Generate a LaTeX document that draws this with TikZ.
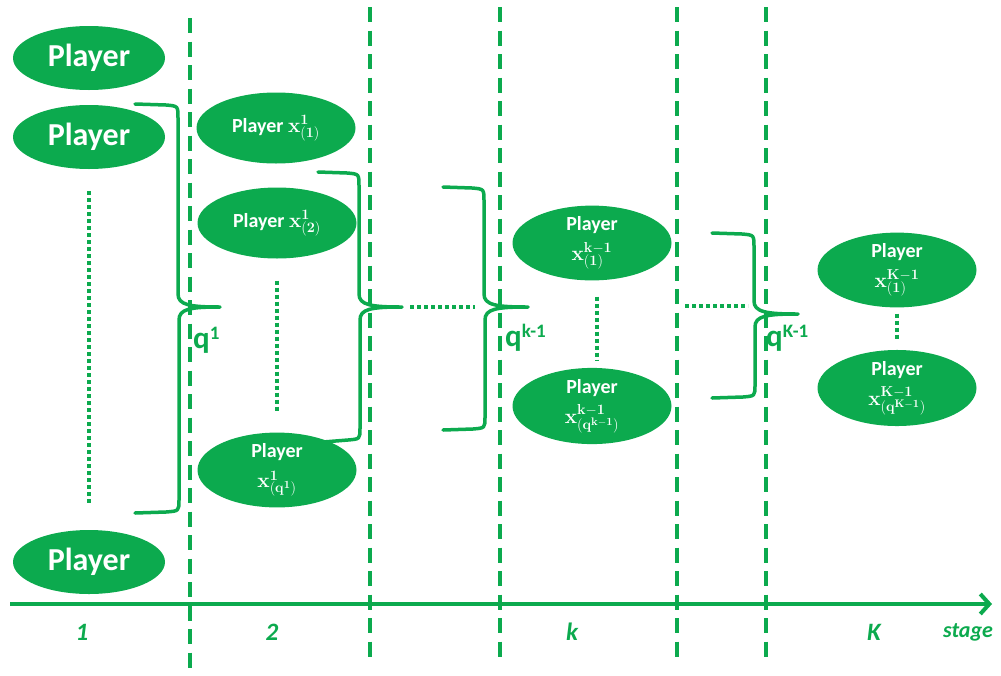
\documentclass[tikz,border=0pt]{standalone}
\usepackage[no-math]{fontspec}
\setmainfont{Carlito}
\usetikzlibrary{shapes.geometric,arrows.meta}
\definecolor{gr}{RGB}{12,170,78}
\newcommand{\xsub}[2]{{\fontsize{22}{26}\selectfont$\mathbf{x}^{#1}_{(#2)}$}}
\begin{document}
\begin{tikzpicture}[x=1pt,y=-1pt,
  pl/.style={ellipse, fill=gr, inner sep=0pt, text=white, font=\bfseries\fontsize{20}{25}\selectfont, align=center},
  big/.style={pl, minimum width=152pt, minimum height=64pt, font=\bfseries\fontsize{32}{38}\selectfont},
  mid/.style={pl, minimum width=159pt, minimum height=71pt},
  dashln/.style={gr, line width=4pt, dash pattern=on 15pt off 8.5pt},
  dotln/.style={gr, line width=4pt, dash pattern=on 4pt off 3pt},
  brc/.style={gr, line width=3.5pt, line join=round, line cap=round},
  stg/.style={text=gr, font=\bfseries\itshape\fontsize{25}{30}\selectfont},
  ql/.style={text=gr, font=\bfseries\fontsize{31}{36}\selectfont, anchor=west, inner sep=0pt}
]
\useasboundingbox (0,0) rectangle (1001,675);

% stage separators
\draw[dashln] (190,18) -- (190,675);
\foreach \x in {370,500,677,766} \draw[dashln] (\x,7) -- (\x,663);

% axis
\coordinate (ax0) at (10,604);
\coordinate (ax1) at (992,604);
\draw[gr, line width=4pt, -{Straight Barb[length=9pt,width=20pt,line width=4pt]}] (ax0) -- (ax1);

% stage labels
\node[stg] (s1) at (82,632) {1};
\node[stg] (s2) at (272,632) {2};
\node[stg] (sk) at (572,632) {k};
\node[stg] (sK) at (874,632) {K};
\node[stg, font=\bfseries\itshape\fontsize{22}{26}\selectfont] (st) at (968,632) {stage};

% column 1
\node[big] (p1) at (89,58) {Player};
\node[big] (p2) at (89,137) {Player};
\node[big] (p3) at (89,562) {Player};

% column 2
\node[mid] (a1) at (276,128) {Player \xsub{\mathbf{1}}{\mathbf{1}}};
\node[mid] (a2) at (277,223) {Player \xsub{\mathbf{1}}{\mathbf{2}}};
\node[mid] (a3) at (277,470) {Player\\[5pt]\xsub{\mathbf{1}}{\mathbf{q}^{\mathbf{1}}}};

% column k
\node[mid] (b1) at (592,243) {Player\\[5pt]\xsub{\mathbf{k-1}}{\mathbf{1}}};
\node[mid] (b2) at (592,406) {Player\\[5pt]\xsub{\mathbf{k-1}}{\mathbf{q}^{\mathbf{k-1}}}};

% column K
\node[mid, minimum height=73pt] (c1) at (897,270) {Player\\[5pt]\xsub{\mathbf{K-1}}{\mathbf{1}}};
\node[mid] (c2) at (897,388) {Player\\[5pt]\xsub{\mathbf{K-1}}{\mathbf{q}^{\mathbf{K-1}}}};

% vertical dotted lines
\draw[dotln, shorten <=22pt, shorten >=26pt] (p2.south) -- (p3.north);
\draw[dotln, shorten <=22pt, shorten >=20pt] (a2.south) -- (a3.north);
\draw[dotln, shorten <=16pt, shorten >=8pt] ([xshift=5pt]b1.south) -- ([xshift=5pt]b2.north);
\draw[dotln, shorten <=6pt, shorten >=9pt] (c1.south) -- (c2.north);

% braces
\draw[brc] (135,104) -- (166,105) .. controls (178,106) .. (178,118) -- (178,294)
  .. controls (178,305) and (190,307) .. (220,307)
  .. controls (190,307) and (179,309) .. (179,320) -- (179,500)
  .. controls (179,511) .. (166,512) -- (135,513);
\draw[brc] (318,172) -- (347,173) .. controls (359,174) .. (359,186) -- (359,294)
  .. controls (359,305) and (371,307) .. (402,307)
  .. controls (371,307) and (360,309) .. (360,320) -- (360,428)
  .. controls (360,439) .. (348,440) -- (323,442);
\draw[brc] (443,187) -- (472,188) .. controls (484,189) .. (484,201) -- (484,294)
  .. controls (484,305) and (496,307) .. (528,307)
  .. controls (496,307) and (485,309) .. (485,320) -- (485,417)
  .. controls (485,428) .. (473,429) -- (443,430);
\draw[brc] (712,233) -- (742,234) .. controls (754,235) .. (754,247) -- (754,301)
  .. controls (754,312) and (766,314) .. (798,314)
  .. controls (766,314) and (755,316) .. (755,327) -- (755,385)
  .. controls (755,396) .. (743,397) -- (712,398);

% horizontal dotted lines
\coordinate (h1a) at (410,307); \coordinate (h1b) at (475,307);
\coordinate (h2a) at (685,306); \coordinate (h2b) at (748,306);
\draw[dotln] (h1a) -- (h1b);
\draw[dotln] (h2a) -- (h2b);

% q labels
\node[ql] (q1) at (193,340) {q\raisebox{9pt}{\fontsize{19}{22}\selectfont 1}};
\node[ql] (qk) at (505,338) {q\raisebox{9pt}{\fontsize{19}{22}\selectfont k-1}};
\node[ql] (qK) at (766,338) {q\raisebox{9pt}{\fontsize{19}{22}\selectfont K-1}};
\end{tikzpicture}
\end{document}
